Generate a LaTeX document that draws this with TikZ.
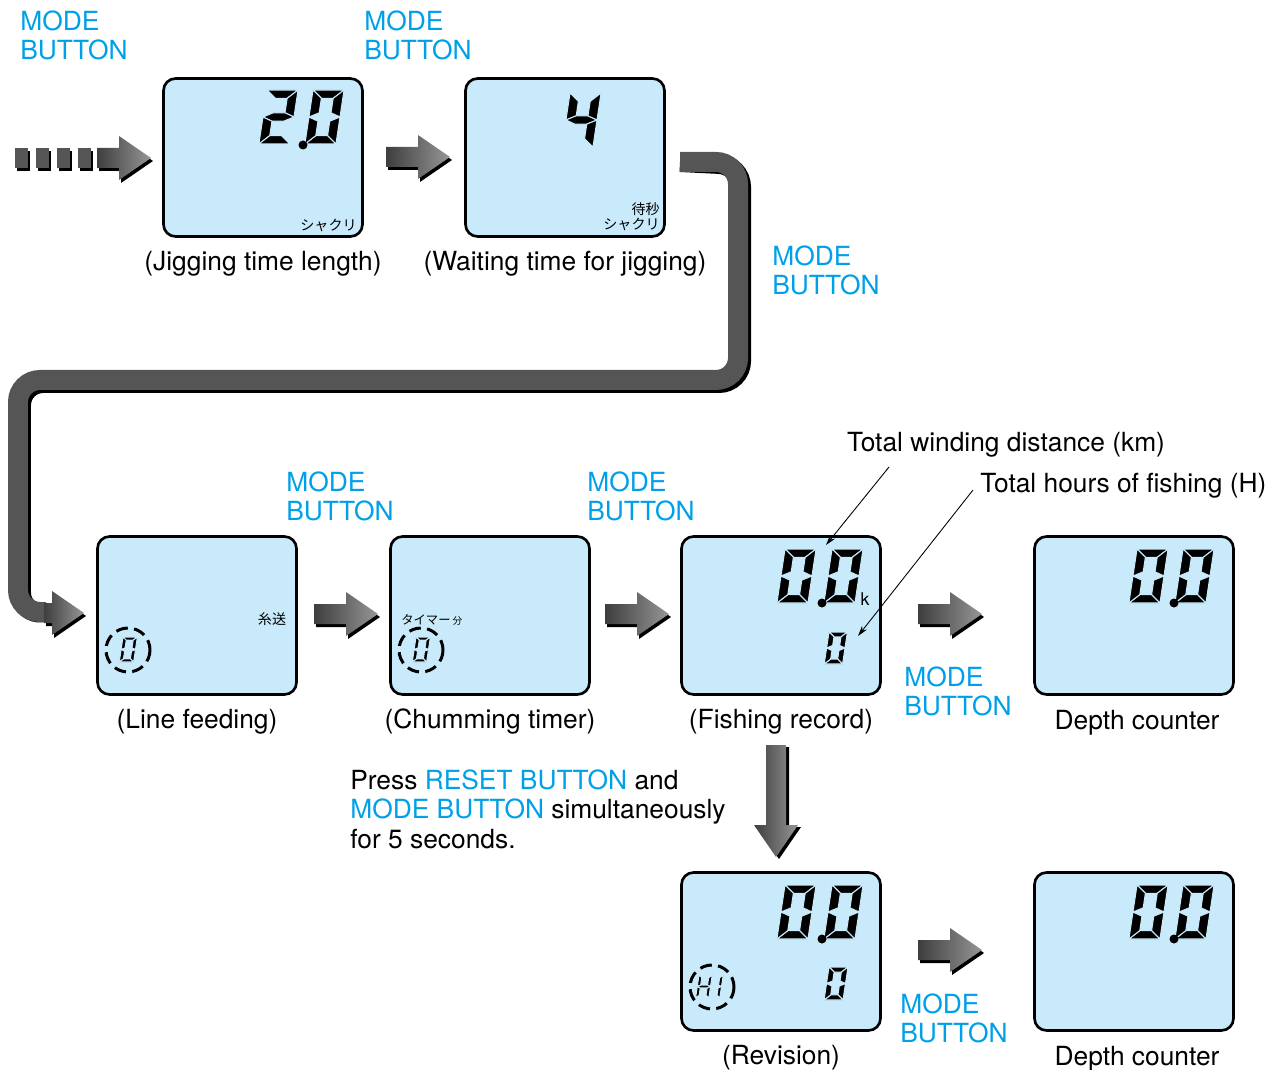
\documentclass[tikz,border=0pt]{standalone}
\usepackage{fontspec}
\setmainfont{TeX Gyre Heros}
\newfontfamily\jpfont{Noto Sans CJK JP}
\usepackage{xcolor}
\usepackage{tikz}
\usetikzlibrary{positioning,arrows.meta}
\definecolor{modecyan}{RGB}{0,160,233}
\definecolor{lcdblue}{RGB}{200,234,250}
\definecolor{arrowdark}{RGB}{62,62,62}
\definecolor{arrowlight}{RGB}{150,150,150}
\definecolor{bargray}{RGB}{85,85,85}

% seven segment digit, local box 1 x 2, y pointing down
\newcommand{\lcdt}{0.31}
\newcommand{\lcdsegment}[1]{%
  \ifcase#1\or
    \fill[lcdseg] (0,0) -- (1,0) -- (1-\lcdt,\lcdt) -- (\lcdt,\lcdt) -- cycle;\or
    \fill[lcdseg] (1,0) -- (1,1) -- (1-\lcdt,1-\lcdt/2) -- (1-\lcdt,\lcdt) -- cycle;\or
    \fill[lcdseg] (1,1) -- (1,2) -- (1-\lcdt,2-\lcdt) -- (1-\lcdt,1+\lcdt/2) -- cycle;\or
    \fill[lcdseg] (0,2) -- (1,2) -- (1-\lcdt,2-\lcdt) -- (\lcdt,2-\lcdt) -- cycle;\or
    \fill[lcdseg] (0,1) -- (0,2) -- (\lcdt,2-\lcdt) -- (\lcdt,1+\lcdt/2) -- cycle;\or
    \fill[lcdseg] (0,0) -- (0,1) -- (\lcdt,1-\lcdt/2) -- (\lcdt,\lcdt) -- cycle;\or
    \fill[lcdseg] (0,1) -- (\lcdt,1-\lcdt/2) -- (1-\lcdt,1-\lcdt/2) -- (1,1) -- (1-\lcdt,1+\lcdt/2) -- (\lcdt,1+\lcdt/2) -- cycle;
  \fi}
\newcommand{\lcddigit}[4][0.31]{%
  \begin{scope}[shift={#2},xslant=0.15,scale=#3,xscale=1.15]
    \renewcommand{\lcdt}{#1}%
    \foreach \s in {#4} {\lcdsegment{\s}}
  \end{scope}}

\tikzset{
  lcd/.style={draw=black,line width=1.5pt,fill=lcdblue,rounded corners=0.24cm,
    minimum width=3.98cm,minimum height=3.16cm,inner sep=0},
  lcdseg/.style={fill=black,draw=lcdblue,line width=0.6pt},
  lcdring/.style={line width=1.7pt,dash pattern=on 6.8pt off 3.6pt},
  caption/.style={inner sep=0,font=\fontsize{15}{16.5}\selectfont},
  modelabel/.style={inner sep=0,anchor=north west,align=left,text=modecyan,
    font=\fontsize{15}{16.5}\selectfont},
  jp/.style={inner sep=0,font=\jpfont\fontsize{8}{8.8}\selectfont},
  annot/.style={line width=0.5pt,-{Stealth[length=6pt,width=3.5pt]}},
  bar/.style={line width=0.4cm,rounded corners=0.44cm},
  modearrow/.pic={
    \fill[black,shift={(2,3)}] (0,-10) -- (#1,-10) -- (#1,-22) -- (#1+32,0)
      -- (#1,22) -- (#1,10) -- (0,10) -- cycle;
    \shade[left color=arrowdark,right color=arrowlight] (0,-10) -- (#1,-10)
      -- (#1,-22) -- (#1+32,0) -- (#1,22) -- (#1,10) -- (0,10) -- cycle;
  }
}

\begin{document}
\begin{tikzpicture}[x=0.02cm,y=-0.02cm]
\useasboundingbox (0,0) rectangle (1287,1070);

% displays
\node[lcd] (jigdisp) at (263,157.5) {};
\node[lcd] (waitdisp) at (565,157.5) {};
\node[lcd] (feeddisp) at (197,615.5) {};
\node[lcd] (chumdisp) at (490,615.5) {};
\node[lcd] (recdisp) at (781,615.5) {};
\node[lcd] (depthdisp) at (1134,615.5) {};
\node[lcd] (revdisp) at (781,951.5) {};
\node[lcd] (depthdispb) at (1134,951.5) {};

\node[caption,below=0.26cm of jigdisp] (jigcap) {(Jigging time length)};
\node[caption,below=0.26cm of waitdisp] (waitcap) {(Waiting time for jigging)};
\node[caption,below=0.26cm of feeddisp] (feedcap) {(Line feeding)};
\node[caption,below=0.26cm of chumdisp] (chumcap) {(Chumming timer)};
\node[caption,below=0.26cm of recdisp] (reccap) {(Fishing record)};
\node[caption,below=0.28cm of depthdisp,xshift=0.06cm] (depthcap) {Depth counter};
\node[caption,below=0.26cm of revdisp] (revcap) {(Revision)};
\node[caption,below=0.28cm of depthdispb,xshift=0.06cm] (depthcapb) {Depth counter};

% digits
\lcddigit{(267,90)}{27}{1,2,7,5,4}
\lcddigit{(313,90)}{27}{1,2,3,4,5,6}
\fill (303,145) circle (4.5);
\lcddigit{(570,93)}{27}{6,7,2,3}
\lcddigit{(785,549)}{27}{1,2,3,4,5,6}
\lcddigit{(832,549)}{27}{1,2,3,4,5,6}
\fill (822,603) circle (4.5);
\node[inner sep=0,anchor=base,font=\fontsize{10}{11}\selectfont] (kmunit) at (865,605) {k};
\lcddigit{(829,632)}{16}{1,2,3,4,5,6}
\lcddigit{(1137,549)}{27}{1,2,3,4,5,6}
\lcddigit{(1183,549)}{27}{1,2,3,4,5,6}
\fill (1174,603) circle (4.5);
\lcddigit{(785,885)}{27}{1,2,3,4,5,6}
\lcddigit{(832,885)}{27}{1,2,3,4,5,6}
\fill (822,939) circle (4.5);
\lcddigit{(829,967)}{16.5}{1,2,3,4,5,6}
\lcddigit{(1137,885)}{27}{1,2,3,4,5,6}
\lcddigit{(1183,885)}{27}{1,2,3,4,5,6}
\fill (1174,939) circle (4.5);
\lcddigit[0.26]{(123,637)}{12.5}{1,2,3,4,5,6}
\lcddigit[0.26]{(416,637)}{12.5}{1,2,3,4,5,6}
\lcddigit[0.24]{(699,975)}{11.5}{2,3,5,6,7}
\lcddigit[0.24]{(710,975)}{11.5}{2,3}
\draw[lcdring] (128,650) circle (22);
\draw[lcdring] (421,650) circle (22);
\draw[lcdring] (712,987) circle (22);

\node[jp,anchor=east] (jigjp) at (357,225) {シャクリ};
\node[jp,anchor=north east,align=right] (waitjp) at (660,202) {待秒\\シャクリ};
\node[jp] (feedjp) at (272,619) {糸送};
\node[jp,anchor=west] (chumjp) at (401,620) {\fontsize{7}{8}\selectfont タイマー\,{\fontsize{5.5}{6}\selectfont 分}};

% mode button labels
\node[modelabel] (modeA) at (20,10) {MODE\\BUTTON};
\node[modelabel] (modeB) at (364,10) {MODE\\BUTTON};
\node[modelabel] (modeC) at (772,245) {MODE\\BUTTON};
\node[modelabel] (modeD) at (286,471) {MODE\\BUTTON};
\node[modelabel] (modeE) at (587,471) {MODE\\BUTTON};
\node[modelabel] (modeF) at (904,666) {MODE\\BUTTON};
\node[modelabel] (modeG) at (900,993) {MODE\\BUTTON};

% entry arrow
\foreach \x in {15,36,57,78} {
  \fill[black] (\x+2,151) rectangle (\x+15,171);
  \fill[bargray] (\x,148) rectangle (\x+13,168);
}
\pic at (97,158) {modearrow=22};
\pic at (386,157) {modearrow=32};

% long connector
\coordinate (barstart) at (680,162);
\coordinate (barend) at (46,612);
\draw[bar,black,shift={(3,3)}] (barstart) -- (738,162) -- (738,380) -- (18,380) -- (18,612) -- (barend);
\draw[bar,bargray] (barstart) -- (738,162) -- (738,380) -- (18,380) -- (18,612) -- (barend);
\pic at (44,613) {modearrow=8};

\pic at (314,614) {modearrow=32};
\pic at (605,614) {modearrow=32};
\pic at (918,614) {modearrow=32};
\pic at (918,950) {modearrow=32};
\pic[rotate=-90,yscale=-1] at (776,745) {modearrow=80};

% notes
\node[caption,anchor=north] (kmnote) at (1006,432) {Total winding distance (km)};
\node[caption,anchor=north west] (hnote) at (980,473) {Total hours of fishing (H)};
\coordinate (kmfoot) at (889,467);
\coordinate (kmtip) at (826,545);
\coordinate (hfoot) at (973,490);
\coordinate (htip) at (858,636);
\draw[annot] (kmfoot) -- (kmtip);
\draw[annot] (hfoot) -- (htip);

\node[caption,anchor=north west,align=left,font=\fontsize{15}{16.8}\selectfont] (presstxt) at (350,769)
  {Press \textcolor{modecyan}{RESET BUTTON} and\\\textcolor{modecyan}{MODE BUTTON} simultaneously\\for 5 seconds.};
\end{tikzpicture}
\end{document}
